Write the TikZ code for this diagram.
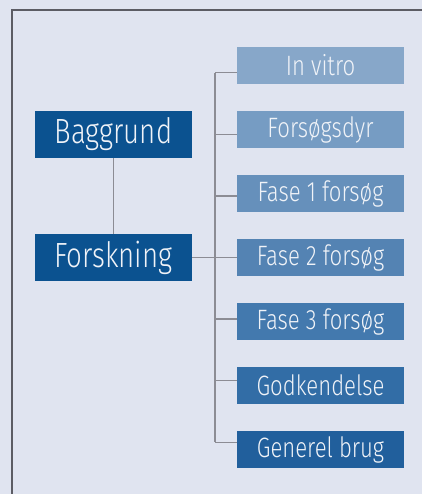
\documentclass[tikz,border=0pt]{standalone}
\usepackage{fontspec}
\setmainfont{Fira Sans Light}[FakeStretch=0.79]
\usetikzlibrary{calc}
\definecolor{bgpanel}{HTML}{E0E4F0}
\definecolor{frameline}{HTML}{5C5C64}
\definecolor{linkline}{HTML}{8C8C94}
\definecolor{mainblue}{HTML}{0B5290}
\definecolor{stepA}{HTML}{87A7C9}
\definecolor{stepB}{HTML}{769CC3}
\definecolor{stepC}{HTML}{6690BB}
\definecolor{stepD}{HTML}{5483B3}
\definecolor{stepE}{HTML}{4379AE}
\definecolor{stepF}{HTML}{326DA6}
\definecolor{stepG}{HTML}{215F9C}
\definecolor{boxtext}{HTML}{F0F3F8}
\tikzset{
  mainbox/.style={fill=mainblue, text=boxtext, minimum width=157pt, minimum height=47pt,
    inner sep=0pt, font=\fontsize{35}{38}\selectfont},
  stagebox/.style={text=boxtext, minimum width=167pt, minimum height=37pt,
    inner sep=0pt, font=\fontsize{28}{30}\selectfont},
  link/.style={draw=linkline, line width=1.5pt},
}
\begin{document}
\begin{tikzpicture}[x=1pt,y=-1pt]
  % panel and its frame
  \fill[bgpanel] (0,0) rectangle (422,494);
  \useasboundingbox (0,0) rectangle (422,494);
  \draw[frameline, line width=2pt] (12,494) -- (12,10) -- (422,10);

  % left column
  \node[mainbox] (bag) at (113.5,134.5) {Baggrund};
  \node[mainbox] (fors) at (113.5,257.5) {Forskning};

  % right column of stages
  \node[stagebox, fill=stepA] (s1) at (320.5,65.5) {In vitro};
  \node[stagebox, fill=stepB] (s2) at (320.5,129.5) {Forsøgsdyr};
  \node[stagebox, fill=stepC] (s3) at (320.5,193.5) {Fase 1 forsøg};
  \node[stagebox, fill=stepD] (s4) at (320.5,257.5) {Fase 2 forsøg};
  \node[stagebox, fill=stepE] (s5) at (320.5,321.5) {Fase 3 forsøg};
  \node[stagebox, fill=stepF] (s6) at (320.5,385.5) {Godkendelse};
  \node[stagebox, fill=stepG] (s7) at (320.5,449.5) {Generel brug};

  % trunk joints, evenly spaced
  \coordinate (j1) at (215,72.7);
  \coordinate (j2) at (215,134.3);
  \coordinate (j3) at (215,195.9);
  \coordinate (j4) at (215,257.5);
  \coordinate (j5) at (215,319.1);
  \coordinate (j6) at (215,380.7);
  \coordinate (j7) at (215,442.3);

  % connectors
  \draw[link] (bag) -- (fors);
  \draw[link] (fors.east) -- (j4);
  \draw[link] (j1) -- (j7);
  \foreach \k in {1,...,7} {
    \draw[link] (j\k) -- (j\k -| s\k.west);
  }
\end{tikzpicture}
\end{document}
